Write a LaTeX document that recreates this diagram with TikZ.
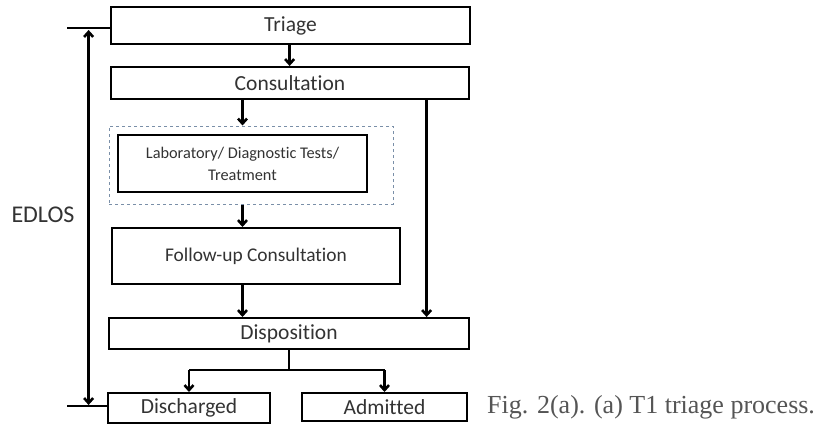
\documentclass[tikz,border=0pt]{standalone}
\usepackage{fontspec}
\setmainfont{Carlito}[Ligatures={NoCommon,NoContextual},RawFeature={-calt}]
\newfontfamily\capfont{Liberation Serif}
\usetikzlibrary{arrows.meta}
\definecolor{txt}{HTML}{333333}
\definecolor{captxt}{HTML}{555555}
\definecolor{dashc}{HTML}{7A8FA8}
\begin{document}
\begin{tikzpicture}[x=1pt,y=-1pt,
  box/.style={draw=black,line width=2pt,inner sep=0pt,text=txt,align=center,
    font=\fontsize{21.5}{24}\selectfont},
  tip/.tip={Straight Barb[length=5pt,width=9pt]},
  arr/.style={line width=2.6pt,-tip},
  plain/.style={line width=2.4pt}]
\useasboundingbox (0,0) rectangle (826,434);
\fill[white] (0,0) rectangle (826,434);
% boxes
\node[box,minimum width=359pt,minimum height=37pt] (triage) at (290.5,25.5) {Triage};
\node[box,minimum width=358pt,minimum height=32pt] (consult) at (290,83) {Consultation};
\node[draw=dashc,dashed,line width=1pt,minimum width=284pt,minimum height=78pt,inner sep=0pt] (dashbox) at (251,165) {};
\node[box,minimum width=249pt,minimum height=57pt,font=\fontsize{16.3}{22}\selectfont] (lab) at (242.5,163.5) {Laboratory/ Diagnostic Tests/\\Treatment};
\node[box,minimum width=288pt,minimum height=56pt,font=\fontsize{19.4}{22}\selectfont] (follow) at (256,256) {Follow-up Consultation};
\node[box,minimum width=360pt,minimum height=31pt] (dispo) at (289,333.5) {Disposition};
\node[box,minimum width=162pt,minimum height=30pt] (disch) at (189,408) {Discharged};
\node[box,minimum width=165pt,minimum height=28pt] (admit) at (384.5,407) {Admitted};
\node[text=txt,font=\fontsize{24}{26}\selectfont,inner sep=0pt] (edlos) at (43,215) {EDLOS};
\node[anchor=base west,inner sep=0pt,text=captxt,font=\capfont\fontsize{26}{28}\selectfont] (cap) at (487,413) {Fig. 2(a). (a) T1 triage process.};
% coordinates
\coordinate (mx) at (289.6,0);
\coordinate (rx) at (426.6,0);
\coordinate (split) at (289,370);
\coordinate (tl) at (67,28);
\coordinate (bl) at (67,406);
\coordinate (vx) at (88.6,0);
% connectors
\draw[arr] (triage.south -| mx) -- (consult.north -| mx);
\draw[arr] (consult.south -| lab.center) -- (dashbox.north -| lab.center);
\draw[arr] (dashbox.south -| lab.center) -- (follow.north -| lab.center);
\draw[arr] (follow.south -| lab.center) -- (dispo.north -| lab.center);
\draw[arr] (consult.south -| rx) -- (dispo.north -| rx);
\draw[plain] (dispo.south) -- (split);
\draw[plain] (split -| disch.center) -- (split -| admit.center);
\draw[arr] (split -| disch.center) -- (disch.north);
\draw[arr] (split -| admit.center) -- (admit.north);
% EDLOS span
\draw[plain] (tl) -- (tl -| triage.west);
\draw[plain] (bl) -- (bl -| disch.west);
\draw[line width=2.6pt,tip-tip,shorten <=2pt,shorten >=1pt] (tl -| vx) -- (bl -| vx);
\end{tikzpicture}
\end{document}
